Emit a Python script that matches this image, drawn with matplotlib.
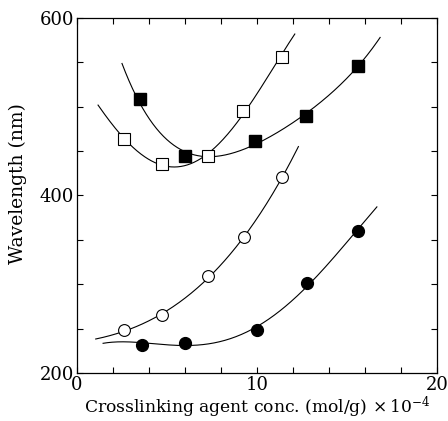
import numpy as np
import matplotlib
matplotlib.use("Agg")
import matplotlib.pyplot as plt
from matplotlib.ticker import MultipleLocator, FixedLocator

# Data points
x_open_sq = [2.6, 4.7, 7.3, 9.2, 11.4]
y_open_sq = [464, 436, 444, 495, 556]
x_fill_sq = [3.5, 6.0, 9.9, 12.7, 15.6]
y_fill_sq = [509, 445, 461, 490, 546]
x_open_ci = [2.6, 4.7, 7.3, 9.3, 11.4]
y_open_ci = [248, 265, 309, 353, 421]
x_fill_ci = [3.6, 6.0, 10.0, 12.8, 15.6]
y_fill_ci = [232, 234, 249, 301, 360]

# end points of the drawn fit curves
ends_x_open_sq = [1.17, 12.1]
ends_y_open_sq = [502, 584]
ends_x_fill_sq = [2.5, 16.84]
ends_y_fill_sq = [546, 578]
ends_x_open_ci = [1.04, 12.3]
ends_y_open_ci = [238, 455]
ends_x_fill_ci = [1.45, 16.66]
ends_y_fill_ci = [234, 388]

plt.rcParams['font.family'] = ['DejaVu Serif']
plt.rcParams['mathtext.fontset'] = 'dejavuserif'

fig = plt.figure(figsize=(4.48, 4.21), dpi=100)
ax = fig.add_axes([77/448, 1-373/421, (437-77)/448, (373-18)/421])

def fit_curve(xs, ys, ex, ey, deg):
    X = [ex[0]] + list(xs) + [ex[1]]
    Y = [ey[0]] + list(ys) + [ey[1]]
    c = np.polyfit(X, Y, deg)
    xx = np.linspace(ex[0], ex[1], 300)
    ax.plot(xx, np.polyval(c, xx), color='black', lw=0.8, zorder=1)

fit_curve(x_open_sq, y_open_sq, ends_x_open_sq, ends_y_open_sq, 4)
fit_curve(x_fill_sq, y_fill_sq, ends_x_fill_sq, ends_y_fill_sq, 4)
fit_curve(x_open_ci, y_open_ci, ends_x_open_ci, ends_y_open_ci, 3)
fit_curve(x_fill_ci, y_fill_ci, ends_x_fill_ci, ends_y_fill_ci, 4)

ms = 8.5
ax.plot(x_open_sq, y_open_sq, 's', ms=ms, mfc='white', mec='black', mew=0.8, ls='none', zorder=3)
ax.plot(x_fill_sq, y_fill_sq, 's', ms=ms, mfc='black', mec='black', ls='none', zorder=3)
ax.plot(x_open_ci, y_open_ci, 'o', ms=ms, mfc='white', mec='black', mew=0.8, ls='none', zorder=3)
ax.plot(x_fill_ci, y_fill_ci, 'o', ms=ms, mfc='black', mec='black', ls='none', zorder=3)

ax.set_xlim(0, 20)
ax.set_ylim(200, 600)
ax.xaxis.set_major_locator(FixedLocator([0, 10, 20]))
ax.xaxis.set_minor_locator(MultipleLocator(2))
ax.yaxis.set_major_locator(FixedLocator([200, 400, 600]))
ax.yaxis.set_minor_locator(MultipleLocator(50))
ax.tick_params(which='both', direction='in', top=True, right=True, width=0.8)
ax.tick_params(which='major', length=4, labelsize=13, pad=2)
ax.tick_params(which='minor', length=4)
for s in ax.spines.values():
    s.set_linewidth(0.9)

ax.set_xlabel(r'Crosslinking agent conc. (mol/g) $\times\,10^{-4}$', fontsize=12.3, labelpad=1)
ax.set_ylabel('Wavelength (nm)', fontsize=13.5)
ax.yaxis.set_label_coords(-0.14, 0.535)

fig.savefig('out.png', dpi=100)
